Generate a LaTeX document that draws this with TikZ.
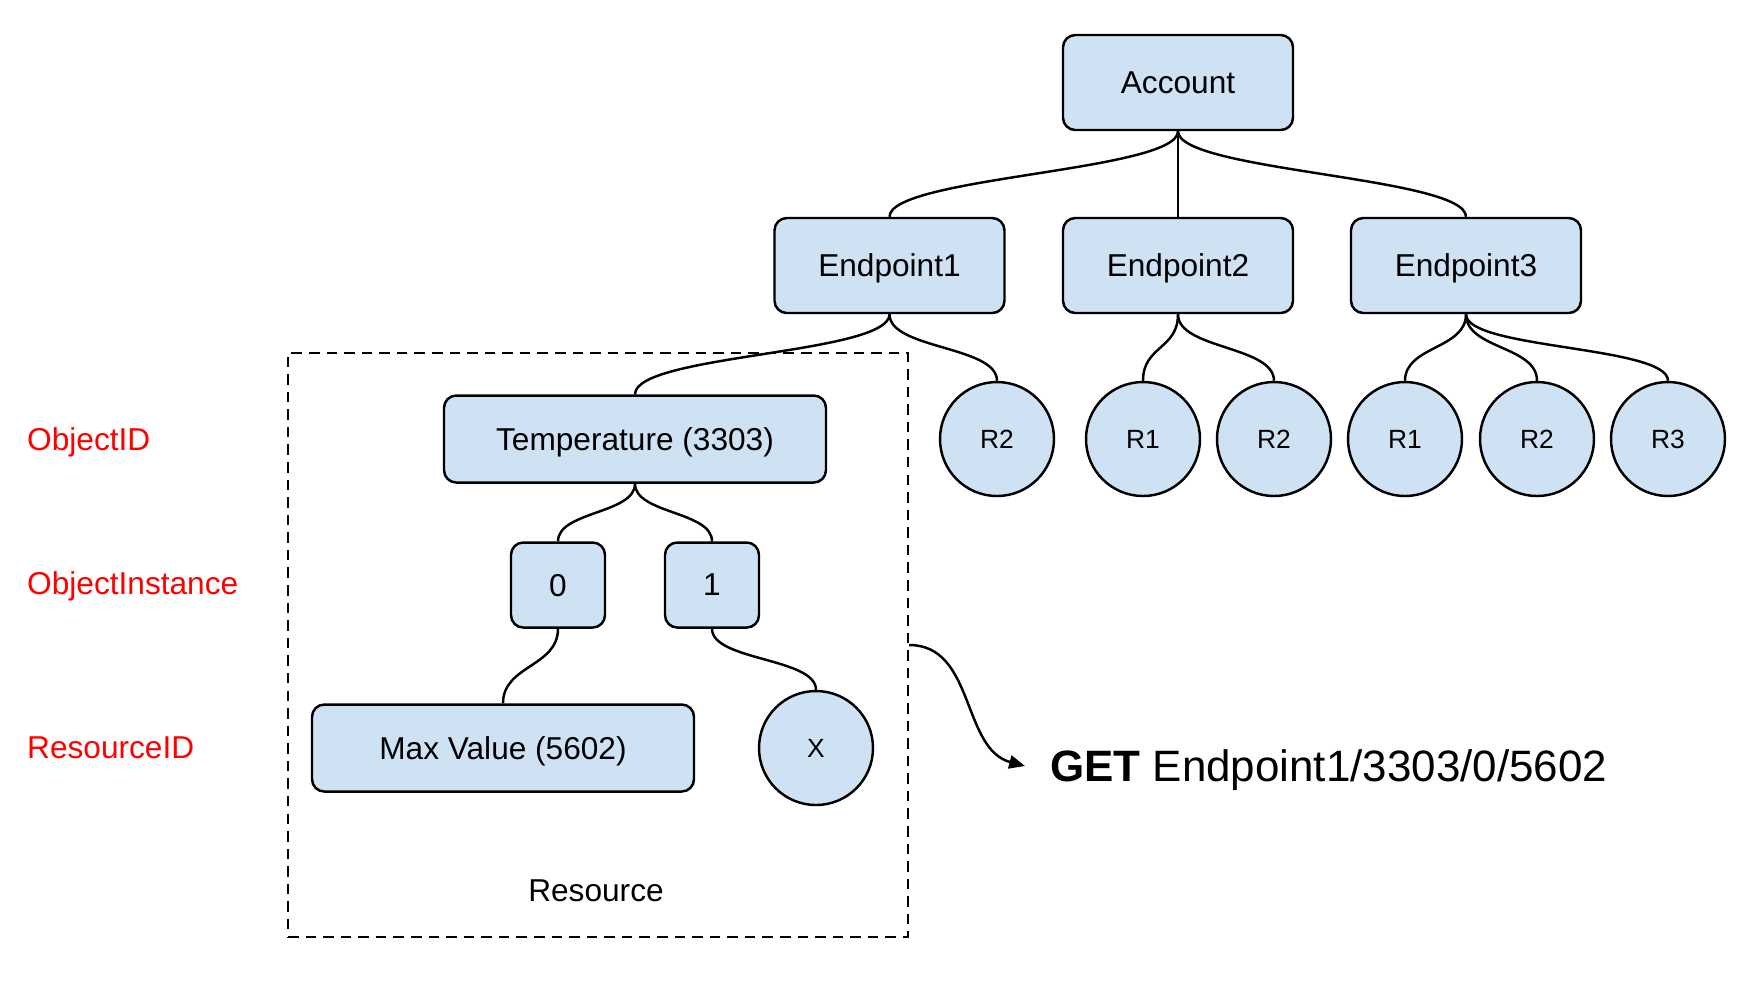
\documentclass[tikz,border=0pt]{standalone}
\usepackage{fontspec}
\setmainfont{Liberation Sans}
\usetikzlibrary{arrows.meta}
\definecolor{boxblue}{RGB}{207,226,243}
\definecolor{levelred}{RGB}{255,0,0}

\begin{document}
\begin{tikzpicture}[line width=0.7pt,
  font=\fontsize{9}{11}\selectfont,
  box/.style={draw, fill=boxblue, rounded corners=3.5pt, inner sep=0pt, text depth=0pt},
  epbox/.style={box, minimum width=2.3cm, minimum height=0.95cm},
  widebox/.style={box, minimum width=3.82cm, minimum height=0.87cm},
  instbox/.style={box, minimum width=0.94cm, minimum height=0.85cm},
  res/.style={draw, fill=boxblue, circle, minimum size=1.14cm, inner sep=0pt, font=\fontsize{7.5}{9}\selectfont},
  level/.style={text=levelred, anchor=west, inner sep=0pt, text depth=0pt},
  frame/.style={draw, dash pattern=on 3pt off 2pt, minimum width=6.2cm, minimum height=5.84cm},
  branch/.style={to path={.. controls +(0,-#1) and +(0,#1) .. (\tikztotarget)}},
  branch/.default=0.4]
\useasboundingbox (0,0) rectangle (17.6,-9.8);

\node[epbox] (acc) at (11.78,-0.825) {Account};
\node[epbox] (ep1) at (8.895,-2.655) {Endpoint1};
\node[epbox] (ep2) at (11.78,-2.655) {Endpoint2};
\node[epbox] (ep3) at (14.66,-2.655) {Endpoint3};
\draw (acc.south) to[branch] (ep1.north);
\draw (acc.south) to[branch] (ep2.north);
\draw (acc.south) to[branch] (ep3.north);

\node[res] (ep1r2) at (9.97,-4.39) {R2};
\node[res] (ep2r1) at (11.43,-4.39) {R1};
\node[res] (ep2r2) at (12.74,-4.39) {R2};
\node[res] (ep3r1) at (14.05,-4.39) {R1};
\node[res] (ep3r2) at (15.37,-4.39) {R2};
\node[res] (ep3r3) at (16.68,-4.39) {R3};
\draw (ep1.south) to[branch=0.35] (ep1r2.north);
\draw (ep2.south) to[branch=0.35] (ep2r1.north);
\draw (ep2.south) to[branch=0.35] (ep2r2.north);
\draw (ep3.south) to[branch=0.35] (ep3r1.north);
\draw (ep3.south) to[branch=0.35] (ep3r2.north);
\draw (ep3.south) to[branch=0.35] (ep3r3.north);

% resource part
\node[frame] (resbox) at (5.98,-6.45) {};
\node (reslabel) at (5.96,-8.91) {Resource};
\node[widebox] (temp) at (6.35,-4.39) {Temperature (3303)};
\node[instbox] (inst0) at (5.58,-5.85) {0};
\node[instbox] (inst1) at (7.12,-5.85) {1};
\node[widebox] (maxv) at (5.03,-7.48) {Max Value (5602)};
\node[res] (xres) at (8.16,-7.48) {X};
\draw (ep1.south) to[branch] (temp.north);
\draw (temp.south) to[branch=0.3] (inst0.north);
\draw (temp.south) to[branch=0.3] (inst1.north);
\draw (inst0.south) to[branch=0.38] (maxv.north);
\draw (inst1.south) to[branch=0.32] (xres.north);

\node[level] (objid) at (0.26,-4.39) {ObjectID};
\node[level] (objinst) at (0.26,-5.83) {ObjectInstance};
\node[level] (resid) at (0.26,-7.48) {ResourceID};

\node[anchor=west, inner xsep=0.24cm, text depth=0pt, font=\fontsize{12.5}{15}\selectfont] (get) at (10.25,-7.66) {\textbf{GET} Endpoint1/3303/0/5602};
\draw[-{Triangle[length=4.5pt,width=3.8pt]}] (resbox.east) to[out=0,in=165] (get.west);
\end{tikzpicture}
\end{document}
